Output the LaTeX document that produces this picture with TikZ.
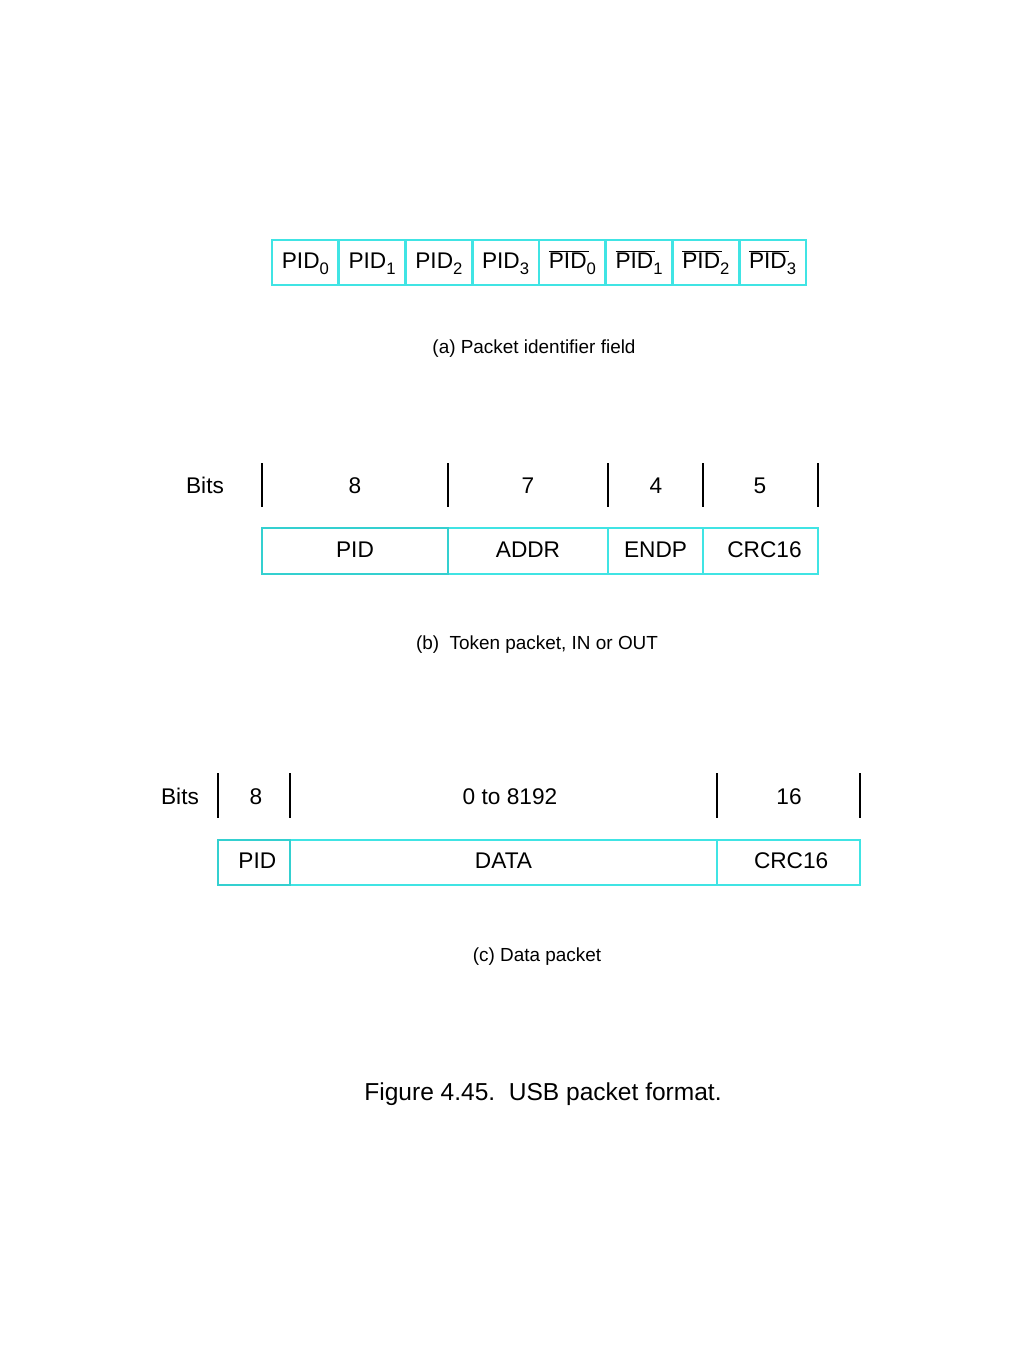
\documentclass[tikz,border=0pt]{standalone}
\usepackage{fontspec}
\setmainfont{Liberation Sans}
\definecolor{cy}{RGB}{64,228,228}
\definecolor{cyd}{RGB}{52,208,208}
\newcommand{\sbs}[1]{\raisebox{-3.8pt}{\fontsize{12.5}{13}\selectfont #1}}
\newcommand{\ppid}[1]{PID\sbs{#1}}
\newcommand{\npid}[1]{\leavevmode\setbox0\hbox{PID}\rlap{\rule[\dimexpr\ht0+0.7pt\relax]{\dimexpr\wd0+1.5pt\relax}{1.1pt}}\box0\sbs{#1}}
\begin{document}
\begin{tikzpicture}[x=0.75pt,y=-0.75pt,
  cell/.style={draw=cy,line width=2.2pt,inner sep=0pt,outer sep=0pt,
    font=\fontsize{17}{19}\selectfont,text height=12.2pt,text depth=2.5pt},
  wa/.style={minimum width=66.75*0.75pt,minimum height=45*0.75pt},
  tickline/.style={draw=black,line width=1.8pt},
  lab/.style={inner sep=0pt,font=\fontsize{17}{19}\selectfont,text height=12.2pt,text depth=0pt},
  captext/.style={inner sep=0pt,font=\fontsize{14.2}{16}\selectfont}]
\useasboundingbox (0,0) rectangle (1024,1365);
% (a)
\node[cell,wa] (a0) at (305.4,262.5) {\ppid{0}};
\node[cell,wa] (a1) at (372.1,262.5) {\ppid{1}};
\node[cell,wa] (a2) at (438.9,262.5) {\ppid{2}};
\node[cell,wa] (a3) at (505.6,262.5) {\ppid{3}};
\node[cell,wa] (a4) at (572.4,262.5) {\npid{0}};
\node[cell,wa] (a5) at (639.1,262.5) {\npid{1}};
\node[cell,wa] (a6) at (705.9,262.5) {\npid{2}};
\node[cell,wa] (a7) at (772.6,262.5) {\npid{3}};
\node[captext] (capa) at (534,349) {(a) Packet identifier field};
% (b)
\node[lab] (bbits) at (205,485) {Bits};
\foreach \x in {262,448,608,703,818} \draw[tickline] (\x,463) -- (\x,507);
\node[lab] (b8) at (355,485) {8};
\node[lab] (b7) at (528,485) {7};
\node[lab] (b4) at (656,485) {4};
\node[lab] (b5) at (760,485) {5};
\node[cell,minimum width=160*0.75pt,minimum height=46*0.75pt] (baddr) at (528,551) {ADDR};
\node[cell,minimum width=95*0.75pt,minimum height=46*0.75pt] (bendp) at (655.5,551) {ENDP};
\node[cell,minimum width=115*0.75pt,minimum height=46*0.75pt] (bcrc) at (760.5,551) {\hspace{6pt}CRC16};
\node[cell,draw=cyd,minimum width=186*0.75pt,minimum height=46*0.75pt] (bpid) at (355,551) {PID};
\node[captext] (capb) at (537,645) {(b)\ \ Token packet, IN or OUT};
% (c)
\node[lab] (cbits) at (180,796) {Bits};
\foreach \x in {218,290,717,860} \draw[tickline] (\x,773) -- (\x,818);
\node[lab] (c8) at (256,796) {8};
\node[lab] (cd) at (510,796) {0 to 8192};
\node[lab] (c16) at (789,796) {16};
\node[cell,minimum width=427*0.75pt,minimum height=45*0.75pt] (cdata) at (503.5,862.5) {DATA};
\node[cell,minimum width=143*0.75pt,minimum height=45*0.75pt] (ccrc) at (788.5,862.5) {\hspace{4pt}CRC16};
\node[cell,draw=cyd,minimum width=72*0.75pt,minimum height=45*0.75pt] (cpid) at (254,862.5) {\hspace{5pt}PID};
\node[captext] (capc) at (537,957) {(c) Data packet};
% caption
\node[inner sep=0pt,font=\fontsize{18.4}{21}\selectfont] (fig) at (543,1094) {Figure 4.45.\ \ USB packet format.};
\end{tikzpicture}
\end{document}
